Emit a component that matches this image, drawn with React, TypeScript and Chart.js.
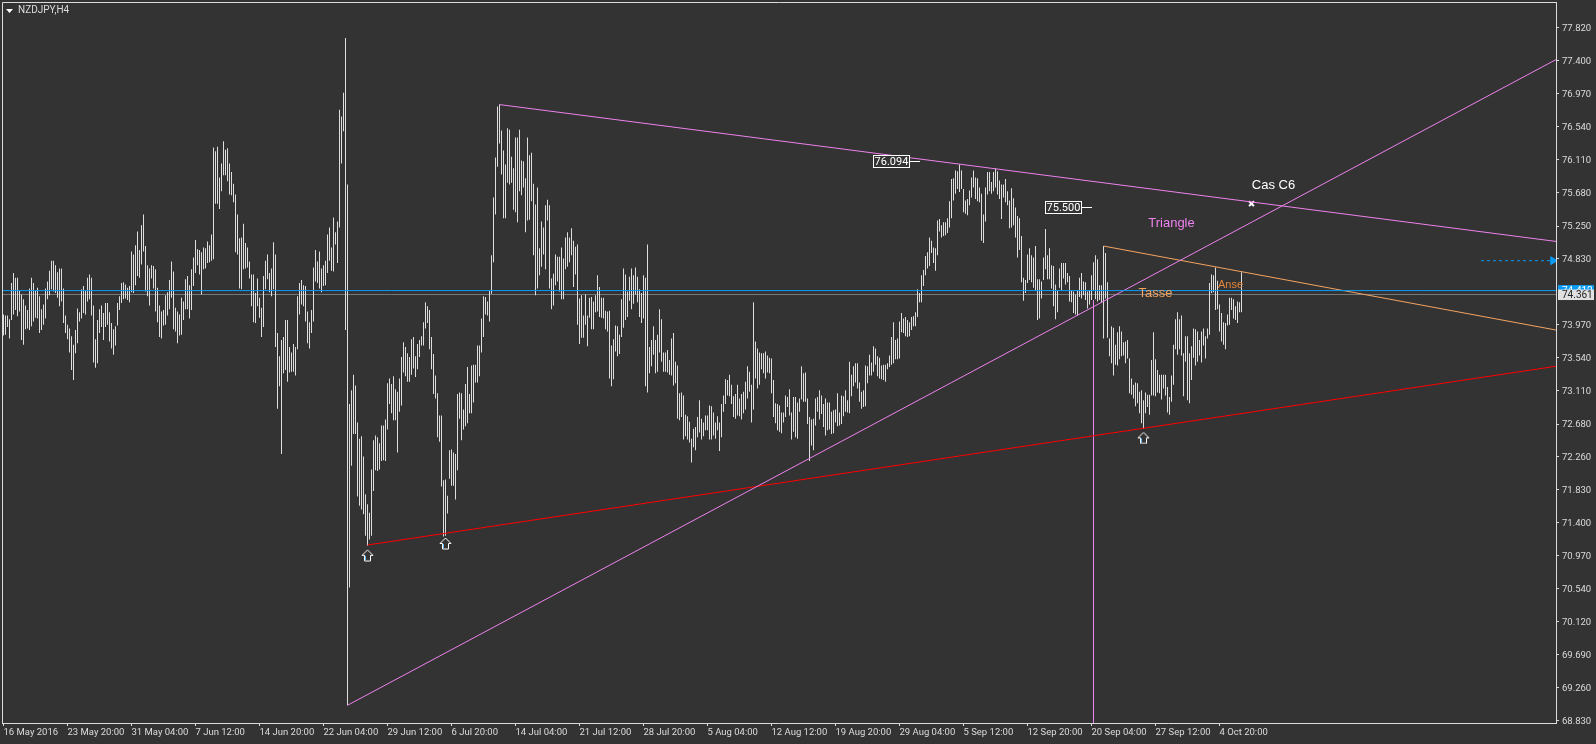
import React, { useEffect, useRef } from "react";
import { Chart, registerables } from "chart.js";

Chart.register(...registerables);

const barHighs = [
74.10,74.09,74.09,74.04,74.51,74.64,74.58,74.58,74.41,74.36,74.30,74.22,74.16,74.44,74.58,74.51,74.41,74.45,74.34,74.17,
74.23,74.44,74.53,74.67,74.80,74.80,74.74,74.65,74.70,74.70,74.44,74.09,73.97,73.92,73.82,73.71,73.90,74.18,74.13,74.43,
74.47,74.41,74.58,74.62,74.58,74.22,73.78,74.03,74.17,74.22,74.12,74.25,74.25,74.13,73.99,73.91,73.95,74.25,74.34,74.51,
74.52,74.49,74.45,74.47,74.92,74.88,75.00,75.18,74.94,75.26,75.40,74.99,74.74,74.70,74.74,74.73,74.69,74.45,74.22,74.14,
74.16,74.35,74.39,74.55,74.79,74.66,74.19,74.14,74.10,74.32,74.27,74.56,74.60,74.48,74.69,74.84,75.07,74.95,74.94,74.91,
74.97,74.96,75.05,75.00,75.14,76.27,76.22,76.28,75.88,76.06,76.35,76.24,76.26,76.06,75.95,75.80,75.66,75.40,75.09,75.10,
75.28,75.03,74.97,74.79,74.62,74.62,74.38,74.57,74.32,74.19,74.60,74.80,74.88,74.64,74.70,75.04,74.88,73.86,73.56,73.77,
73.81,74.03,74.03,73.68,73.61,73.72,73.68,74.34,74.51,74.55,74.48,74.47,74.14,74.00,74.16,74.71,74.94,74.79,74.92,74.70,
74.74,74.80,75.14,75.23,74.97,75.36,75.17,75.31,76.76,76.67,76.98,77.69,75.79,72.94,73.12,73.32,73.18,72.70,72.49,72.52,
72.26,71.77,71.64,71.53,72.09,72.47,72.53,72.51,72.43,72.66,72.66,72.74,73.21,73.27,73.20,73.30,73.13,73.10,73.27,73.55,
73.74,73.68,73.60,73.55,73.78,73.81,73.56,73.72,73.77,73.82,74.00,74.26,74.21,74.16,73.81,73.59,73.31,73.08,72.79,72.79,
71.95,71.96,71.75,72.34,72.35,72.31,72.29,73.07,73.09,73.08,72.87,73.20,73.42,73.07,73.44,73.45,73.45,73.70,73.70,74.05,
74.34,74.33,74.27,74.41,74.87,75.62,76.14,76.80,76.83,76.49,76.23,76.05,76.52,76.50,76.15,76.00,76.40,76.40,76.50,76.10,
76.09,75.87,76.40,76.17,76.20,75.80,75.53,75.75,74.96,75.31,75.23,75.52,75.59,75.52,74.57,74.63,74.88,74.85,74.85,74.97,
74.83,75.10,75.17,75.10,75.22,75.06,74.98,75.01,74.31,74.35,74.09,74.36,74.09,74.32,74.33,74.27,74.35,74.61,74.46,74.32,
74.32,74.15,74.14,74.15,73.70,73.78,73.96,73.95,73.84,74.30,74.70,74.62,74.40,74.59,74.70,74.61,74.71,74.59,74.43,74.38,
74.61,74.58,75.01,73.68,73.77,73.95,73.77,73.84,74.17,74.04,73.61,73.61,73.64,73.51,73.79,73.86,73.49,73.44,73.08,73.09,
73.05,72.80,72.78,72.71,72.49,72.62,72.64,72.77,72.99,72.75,72.70,72.79,72.79,72.92,72.91,72.83,72.70,72.78,72.70,72.94,
73.05,73.26,73.25,73.32,73.19,73.04,73.07,73.19,73.01,73.07,73.10,73.23,73.43,73.36,73.19,74.26,73.75,73.66,73.61,73.60,
73.60,73.62,73.57,73.54,73.53,73.25,72.95,72.94,72.92,72.83,72.83,73.05,73.03,73.13,72.83,73.03,73.03,72.96,73.01,73.43,
73.34,73.35,73.01,72.77,72.74,72.75,73.01,73.03,73.12,73.05,72.94,73.01,72.96,72.96,72.84,72.86,72.87,73.08,72.83,73.05,
73.04,73.12,72.99,73.49,73.32,73.43,73.47,73.47,73.22,73.10,73.12,73.44,73.43,73.58,73.48,73.69,73.66,73.56,73.54,73.44,
73.45,73.45,73.47,73.57,73.81,74.00,73.77,73.79,74.01,74.12,74.05,74.07,74.03,74.00,74.07,74.08,74.13,74.43,74.38,74.61,
74.68,74.86,74.91,75.10,75.06,74.97,74.96,75.32,75.34,75.26,75.30,75.30,75.35,75.57,75.86,75.87,75.97,75.96,76.05,75.97,
75.73,75.58,75.60,75.71,75.88,75.97,75.88,75.87,75.75,75.67,75.40,75.75,75.95,75.95,75.82,75.95,76.00,75.96,75.84,75.79,
75.79,75.86,75.70,75.58,75.74,75.61,75.49,75.38,75.35,75.12,74.58,74.55,74.88,74.96,74.87,74.84,74.99,74.56,74.56,74.53,
74.84,75.21,74.87,74.96,74.74,74.73,74.49,74.41,74.70,74.77,74.77,74.77,74.64,74.60,74.42,74.40,74.36,74.42,74.58,74.64,
74.53,74.52,74.40,74.42,74.61,74.78,74.87,74.82,74.48,74.48,74.99,74.90,74.52,73.79,73.95,73.93,73.71,73.87,73.95,73.88,
73.74,73.75,73.77,73.53,73.27,73.19,73.22,73.21,73.10,73.12,72.99,73.09,73.06,73.06,73.51,73.87,73.52,73.38,73.32,73.32,
73.32,73.32,73.16,73.03,73.31,73.71,74.04,74.13,74.04,74.09,73.60,73.82,73.82,73.60,73.69,73.92,73.91,73.88,73.77,73.88,
73.92,73.82,73.92,74.51,74.62,74.61,74.71,74.54,74.23,74.12,74.00,73.99,74.10,74.32,74.32,74.30,74.21,74.27,74.26,74.65,
];

const barLows = [
73.83,73.84,73.94,73.79,74.03,74.10,74.16,74.08,74.14,73.77,73.71,73.91,73.92,73.90,73.95,74.01,74.06,74.05,73.86,73.90,
73.97,74.05,74.30,74.35,74.43,74.40,74.38,74.32,74.21,74.27,73.99,73.86,73.78,73.61,73.38,73.25,73.60,73.73,74.01,74.05,
74.12,74.10,74.27,74.30,74.09,73.48,73.41,73.47,73.86,73.94,73.77,73.94,73.97,73.75,73.66,73.58,73.70,73.96,74.16,74.25,
74.30,74.31,74.29,74.26,74.39,74.38,74.48,74.60,74.58,74.75,74.92,74.40,74.34,74.22,74.57,74.44,74.14,74.00,73.81,73.79,
73.96,73.97,74.09,74.17,74.32,73.91,73.88,73.73,73.83,73.84,74.03,74.17,74.17,74.05,74.16,74.47,74.64,74.74,74.62,74.36,
74.69,74.70,74.77,74.78,74.80,74.82,75.54,75.54,75.47,75.70,75.91,75.91,75.83,75.66,75.65,75.56,74.91,74.88,74.44,74.43,
74.69,74.70,74.71,74.57,74.21,74.00,73.99,74.21,74.06,73.81,73.94,74.43,74.56,74.39,74.34,74.43,73.68,72.88,73.17,72.29,
73.34,73.38,73.23,73.35,73.36,73.36,73.31,73.65,74.10,74.23,74.21,74.01,73.73,73.66,73.86,74.01,74.53,74.51,74.44,74.39,
74.47,74.48,74.64,74.80,74.67,74.66,75.01,74.77,75.23,76.06,76.48,73.90,69.03,70.56,72.14,72.55,72.55,71.74,71.62,71.57,
71.51,71.23,71.10,71.18,71.23,71.81,72.08,72.07,72.09,72.20,72.21,72.20,72.61,72.94,72.82,72.73,72.73,72.31,72.84,72.92,
73.35,73.30,73.23,73.23,73.32,73.40,73.29,73.39,73.55,73.70,73.70,73.92,73.99,73.65,73.39,73.07,73.01,72.51,72.45,71.87,
71.22,71.23,71.52,71.97,71.88,71.88,71.70,72.08,72.75,72.47,72.61,72.65,72.69,72.82,72.82,72.96,73.22,73.22,73.30,73.61,
73.81,74.10,74.09,74.01,74.37,74.78,75.40,76.02,76.32,75.92,75.35,75.35,75.81,75.79,75.81,75.46,75.43,75.30,75.70,75.65,
75.75,75.17,75.32,75.33,75.57,74.87,74.35,74.44,74.61,74.72,74.88,74.69,75.32,74.44,74.17,74.22,74.48,74.53,74.40,74.30,
74.30,74.69,74.72,74.78,74.87,74.46,74.62,73.97,73.72,73.80,73.80,73.97,73.69,74.06,73.91,73.91,74.13,74.14,74.07,74.06,
74.05,73.91,73.88,73.27,73.17,73.26,73.62,73.56,73.59,73.81,73.93,74.03,74.07,74.28,74.17,74.24,74.36,74.26,74.07,73.99,
74.05,73.17,73.09,73.34,73.43,73.58,73.34,73.36,73.61,73.49,73.36,73.36,73.35,73.32,73.31,73.18,73.21,72.75,72.73,72.77,
72.48,72.52,72.48,72.44,72.18,72.38,72.34,72.51,72.57,72.48,72.52,72.60,72.60,72.48,72.48,72.53,72.49,72.60,72.33,72.51,
72.84,72.94,73.05,73.04,72.94,72.77,72.75,72.79,72.78,72.74,72.82,72.87,73.01,73.10,72.70,72.87,73.27,73.14,73.19,73.39,
73.34,73.27,73.35,73.34,73.08,72.77,72.69,72.60,72.58,72.56,72.70,72.77,72.90,72.79,72.48,72.58,72.51,72.49,72.84,73.00,
72.97,72.97,72.68,72.20,72.40,72.34,72.66,72.84,72.74,72.81,72.64,72.53,72.60,72.61,72.55,72.56,72.70,72.65,72.66,72.68,
72.78,72.84,72.83,72.82,73.04,73.17,73.22,73.14,72.97,72.88,72.90,72.91,73.21,73.31,73.31,73.36,73.45,73.30,73.27,73.26,
73.25,73.23,73.39,73.42,73.45,73.47,73.52,73.52,73.53,73.87,73.86,73.82,73.81,73.82,73.90,73.95,73.95,74.07,74.26,74.26,
74.47,74.61,74.70,74.73,74.90,74.77,74.67,74.87,75.18,75.10,75.12,75.13,75.16,75.23,75.35,75.58,75.67,75.73,75.69,75.73,
75.43,75.41,75.39,75.52,75.62,75.75,75.60,75.57,75.56,75.06,75.03,75.31,75.66,75.70,75.67,75.70,75.75,75.66,75.60,75.34,
75.62,75.56,75.52,75.22,75.23,75.26,75.10,74.84,74.94,74.52,74.28,74.38,74.51,74.55,74.52,74.45,74.41,74.03,74.05,74.31,
74.55,74.69,74.56,74.56,74.44,74.21,74.04,74.13,74.45,74.41,74.57,74.49,74.52,74.27,74.26,74.12,74.10,74.09,74.33,74.31,
74.35,74.29,74.18,74.23,74.29,74.42,74.30,74.27,74.29,74.26,73.79,74.31,73.80,73.56,73.47,73.31,73.45,73.44,73.52,73.56,
73.57,73.47,73.53,73.08,73.06,73.01,72.91,72.95,72.82,72.69,72.62,72.82,72.90,72.80,73.05,73.05,73.04,73.09,73.08,73.00,
73.14,73.05,72.83,72.80,72.97,73.19,73.65,73.58,73.65,73.57,73.04,73.49,72.99,72.95,73.25,73.54,73.44,73.49,73.57,73.48,
73.70,73.53,73.79,73.84,74.38,74.39,74.16,74.17,73.88,73.75,73.71,73.65,73.96,73.97,74.16,74.05,74.03,73.99,74.13,74.13,
];

const dateLabels = [
  "16 May 2016","23 May 20:00","31 May 04:00","7 Jun 12:00","14 Jun 20:00","22 Jun 04:00","29 Jun 12:00",
  "6 Jul 20:00","14 Jul 04:00","21 Jul 12:00","28 Jul 20:00","5 Aug 04:00","12 Aug 12:00","19 Aug 20:00",
  "29 Aug 04:00","5 Sep 12:00","12 Sep 20:00","20 Sep 04:00","27 Sep 12:00","4 Oct 20:00",
];
const barsPerDateTick = 32;
const priceTicks = [
  68.83,69.26,69.69,70.12,70.54,70.97,71.4,71.83,72.26,72.68,73.11,73.54,73.97,74.83,75.25,75.68,76.11,76.54,76.97,77.4,77.82,
];

const askPrice = 74.412;
const bidPrice = 74.361;
const upperTriangleLine = [{ x: 248, y: 76.826 }, { x: 776.25, y: 75.05 }];
const risingLine = [{ x: 172, y: 69.03 }, { x: 776.25, y: 77.41 }];
const supportLine = [{ x: 182, y: 71.11 }, { x: 776.25, y: 73.43 }];
const cupLine = [{ x: 550, y: 74.99 }, { x: 776.25, y: 73.9 }];
const verticalLine = [{ x: 545, y: 74.286 }, { x: 545, y: 68.8 }];
const priceArrow = [{ x: 738.75, y: 74.8 }, { x: 774.75, y: 74.8 }];
const upArrows = [{ x: 182, y: 70.976 }, { x: 221, y: 71.13 }, { x: 570, y: 72.5 }];
const crossMark = [{ x: 624, y: 75.54 }];
const noteTexts = [
  { text: "Triangle", x: 584, y: 75.285, color: "#ee82ee", size: 13 },
  { text: "Tasse", x: 576, y: 74.38, color: "#f4a460", size: 13 },
  { text: "Anse", x: 613.5, y: 74.49, color: "#e0863c", size: 11 },
  { text: "Cas C6", x: 635, y: 75.78, color: "#ffffff", size: 13 },
];
const priceBoxes = [
  { text: "76.094", x: 435, y: 76.1, xEnd: 458.25 },
  { text: "75.500", x: 521, y: 75.5, xEnd: 544.25 },
];

const BG = "#333333";
const FG = "#dcdcdc";
const FONT = "Roboto, 'Liberation Sans', sans-serif";

function makeArrow(): HTMLCanvasElement {
  const c = document.createElement("canvas");
  c.width = 13;
  c.height = 13;
  const g = c.getContext("2d") as CanvasRenderingContext2D;
  const path = () => {
    g.beginPath();
    g.moveTo(6.5, 1);
    g.lineTo(12, 6.5);
    g.lineTo(9.5, 6.5);
    g.lineTo(9.5, 12);
    g.lineTo(3.5, 12);
    g.lineTo(3.5, 6.5);
    g.lineTo(1, 6.5);
    g.closePath();
  };
  g.lineWidth = 1;
  g.strokeStyle = "#ffffff";
  path();
  g.stroke();
  g.strokeStyle = "#5fb8ff";
  g.beginPath();
  g.moveTo(4.5, 7);
  g.lineTo(4.5, 11);
  g.stroke();
  return c;
}

const overlay = {
  id: "overlay",
  afterDatasetsDraw(chart: any) {
    const { ctx, chartArea: a, scales } = chart;
    const px = (v: number) => scales.x.getPixelForValue(v);
    const py = (v: number) => scales.y.getPixelForValue(v);
    ctx.save();
    ctx.strokeStyle = FG;
    ctx.lineWidth = 1;
    ctx.beginPath();
    ctx.moveTo(a.left + 0.5, a.bottom + 0.5);
    ctx.lineTo(a.left + 0.5, a.top + 0.5);
    ctx.lineTo(a.right + 0.5, a.top + 0.5);
    ctx.stroke();

    ctx.fillStyle = "#ffffff";
    ctx.beginPath();
    ctx.moveTo(6, 9);
    ctx.lineTo(13, 9);
    ctx.lineTo(9.5, 13);
    ctx.closePath();
    ctx.fill();
    ctx.fillStyle = FG;
    ctx.font = `10px ${FONT}`;
    ctx.textBaseline = "middle";
    ctx.textAlign = "left";
    ctx.fillText("NZDJPY,H4", 18, 10.5);

    noteTexts.forEach((n) => {
      ctx.fillStyle = n.color;
      ctx.font = `${n.size}px 'Liberation Sans', sans-serif`;
      ctx.textAlign = "center";
      ctx.fillText(n.text, px(n.x), py(n.y));
    });

    priceBoxes.forEach((b) => {
      const left = Math.round(px(b.x)) - 0.5;
      const yc = Math.round(py(b.y)) + 0.5;
      ctx.fillStyle = BG;
      ctx.fillRect(left, yc - 6, 36, 12);
      ctx.strokeStyle = "#ffffff";
      ctx.strokeRect(left, yc - 6, 36, 12);
      ctx.beginPath();
      ctx.moveTo(left + 36, yc);
      ctx.lineTo(Math.round(px(b.xEnd)), yc);
      ctx.stroke();
      ctx.fillStyle = "#ffffff";
      ctx.font = `11px ${FONT}`;
      ctx.textAlign = "center";
      ctx.fillText(b.text, left + 18, yc + 0.5);
    });

    const tagLeft = a.right + 2;
    const tagWidth = 36;
    const askY = py(askPrice);
    const bidY = py(bidPrice);
    ctx.font = `10px ${FONT}`;
    ctx.textAlign = "left";
    ctx.fillStyle = "#0a9bf5";
    ctx.fillRect(tagLeft, askY - 5.5, tagWidth, 11);
    ctx.fillStyle = "#ffffff";
    ctx.fillText(askPrice.toFixed(3), tagLeft + 4, askY + 0.5);
    ctx.fillStyle = "#e0e0e0";
    ctx.fillRect(tagLeft, bidY - 5, tagWidth, 10.5);
    ctx.fillStyle = "#222222";
    ctx.fillText(bidPrice.toFixed(3), tagLeft + 4, bidY + 0.5);
    ctx.restore();
  },
};

const dropPadding = (s: any) => {
  s.paddingLeft = 0;
  s.paddingRight = 0;
  s.paddingTop = 0;
  s.paddingBottom = 0;
};

export default function App() {
  const ref = useRef<HTMLCanvasElement | null>(null);

  useEffect(() => {
    document.body.style.margin = "0";
    document.body.style.background = BG;
    const lineSet = (data: any[], color: string, extra: any = {}) => ({
      type: "line",
      data,
      borderColor: color,
      backgroundColor: color,
      borderWidth: 1,
      pointRadius: 0,
      tension: 0,
      order: 1,
      ...extra,
    });
    const chart = new Chart(ref.current as HTMLCanvasElement, {
      type: "bar",
      data: {
        datasets: [
          lineSet([{ x: -0.75, y: askPrice }, { x: 776.25, y: askPrice }], "#0a9bf5"),
          lineSet([{ x: -0.75, y: bidPrice }, { x: 776.25, y: bidPrice }], "#777777", { order: 3 }),
          lineSet(upperTriangleLine, "#ee82ee"),
          lineSet(risingLine, "#ee82ee"),
          lineSet(supportLine, "#ff0000"),
          lineSet(cupLine, "#f4a460"),
          lineSet(verticalLine, "#ee82ee"),
          lineSet(priceArrow, "#0a9bf5", {
            borderDash: [3, 3],
            pointRadius: [0, 4.5],
            pointStyle: "triangle",
            pointRotation: 90,
          }),
          lineSet(upArrows, "#ffffff", { showLine: false, pointRadius: 6, pointStyle: makeArrow() }),
          lineSet(crossMark, "#ffffff", {
            showLine: false,
            pointRadius: 3.5,
            pointBorderWidth: 2,
            pointStyle: "crossRot",
          }),
          {
            type: "bar",
            data: barHighs.map((h, i) => ({ x: i, y: [barLows[i], h] })),
            backgroundColor: "#dedede",
            borderWidth: 0,
            barThickness: 1,
            inflateAmount: 0,
            grouped: false,
            order: 2,
          },
        ] as any,
      },
      options: {
        animation: false,
        responsive: false,
        devicePixelRatio: 1,
        layout: { autoPadding: false, padding: { left: 2, top: 2, right: 0, bottom: 0 } },
        plugins: { legend: { display: false }, tooltip: { enabled: false } },
        events: [],
        scales: {
          x: {
            type: "linear",
            offset: false,
            bounds: "data",
            min: -0.75,
            max: 776.25,
            afterFit: (s: any) => { s.height = 21; dropPadding(s); },
            afterBuildTicks: (s: any) => {
              s.ticks = dateLabels.map((_, k) => ({ value: k * barsPerDateTick }));
            },
            grid: { drawOnChartArea: false, drawTicks: true, tickLength: 3, color: FG, offset: false },
            border: { display: true, color: FG, width: 1 },
            ticks: {
              autoSkip: false,
              maxRotation: 0,
              minRotation: 0,
              align: "start",
              padding: 1,
              color: FG,
              font: { family: FONT, size: 9.5 },
              callback: (v: any) => dateLabels[Math.round(Number(v) / barsPerDateTick)],
            },
          },
          y: {
            type: "linear",
            position: "right",
            bounds: "data",
            min: 68.7999,
            max: 78.1574,
            afterFit: (s: any) => { s.width = 40; dropPadding(s); },
            afterBuildTicks: (s: any) => { s.ticks = priceTicks.map((value) => ({ value })); },
            grid: { drawOnChartArea: false, drawTicks: true, tickLength: 3, color: FG },
            border: { display: true, color: FG, width: 1 },
            ticks: {
              autoSkip: false,
              padding: 3,
              labelOffset: 1,
              color: FG,
              font: { family: FONT, size: 9.5 },
              callback: (v: any) => Number(v).toFixed(3),
            },
          },
        },
      } as any,
      plugins: [overlay],
    } as any);
    return () => chart.destroy();
  }, []);

  return (
    <div style={{ position: "fixed", left: 0, top: 0, width: 1596, height: 744, background: BG }}>
      <canvas ref={ref} width={1596} height={744} style={{ display: "block", width: 1596, height: 744 }} />
    </div>
  );
}
